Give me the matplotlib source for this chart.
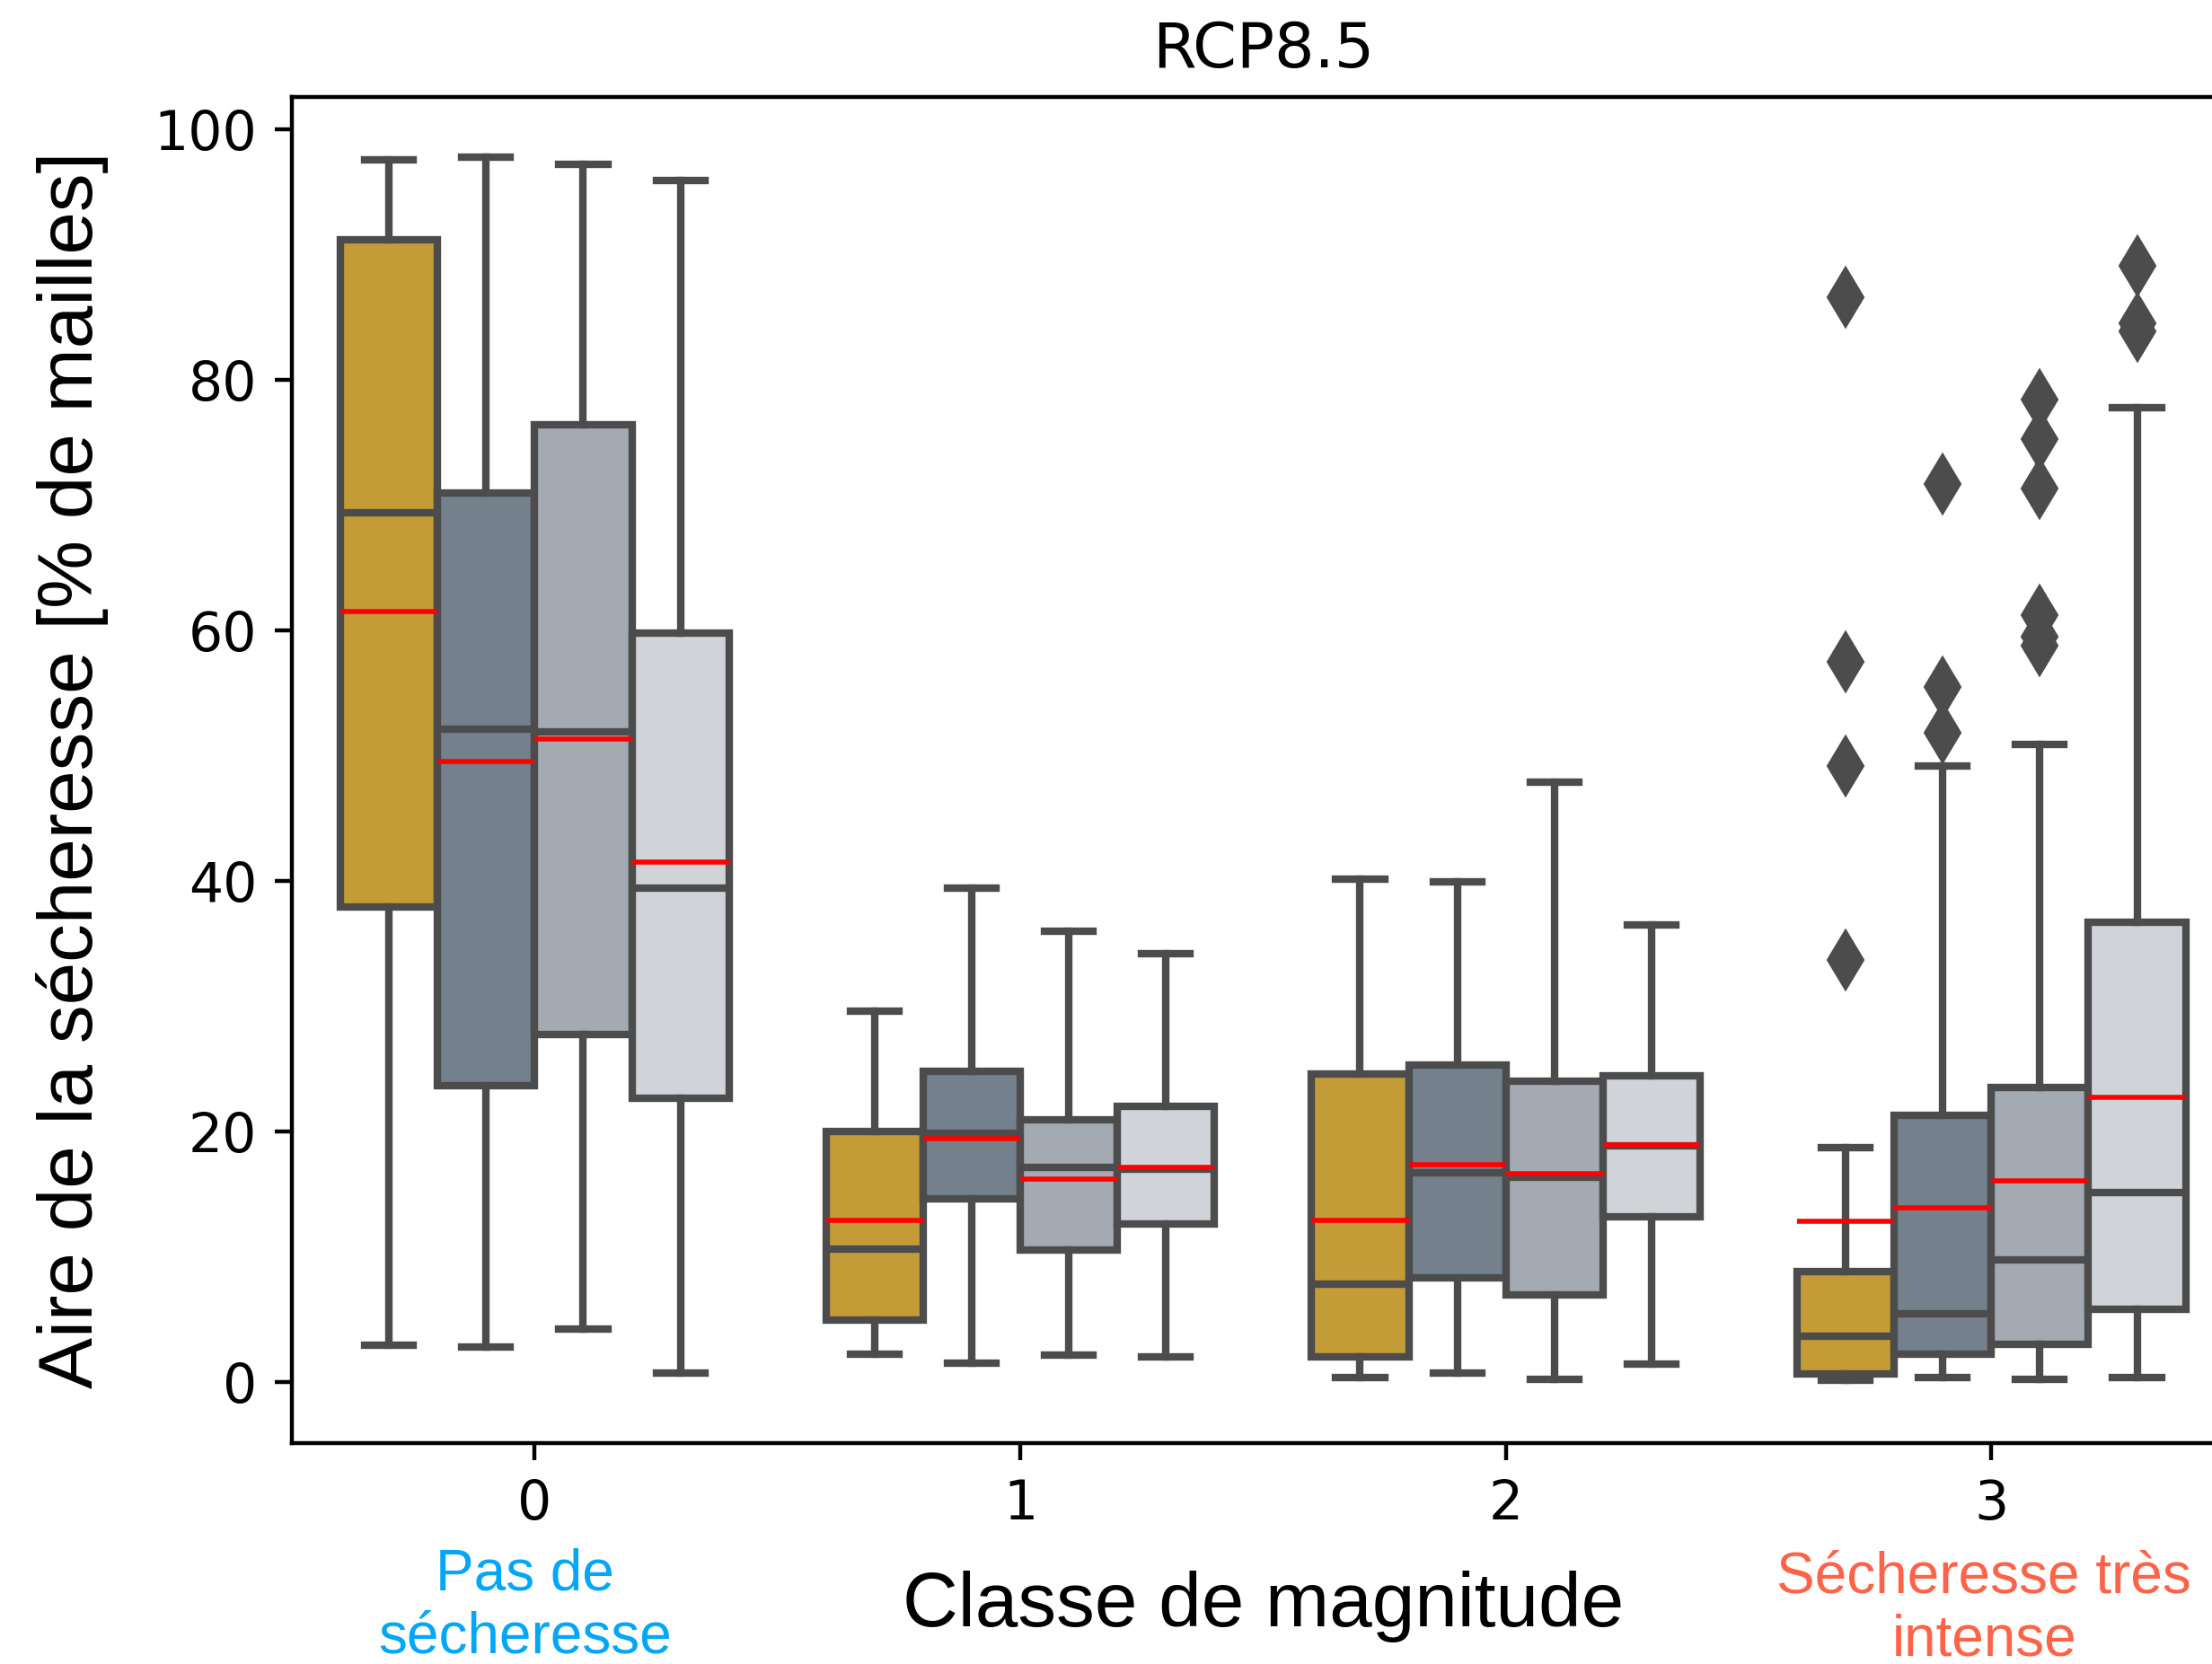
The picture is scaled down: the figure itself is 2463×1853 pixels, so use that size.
import matplotlib
matplotlib.use("Agg")
import matplotlib.pyplot as plt

# Configuration
OUT_FILE = "out.png"
DPI = 400

classes = [0, 1, 2, 3]
hue_colors = ["#C39B37", "#74808C", "#A3AAB2", "#D0D3D8"]
line_gray = "#4C4C4C"

# stats per magnitude class (rows) and per series (columns)
medians = [
    [69.4, 52.1, 51.9, 39.4],
    [10.6, 19.8, 17.1, 17.0],
    [7.8, 16.7, 16.3, 18.8],
    [3.6, 5.4, 9.7, 15.1],
]
means = [
    [61.5, 49.5, 51.3, 41.5],
    [12.9, 19.4, 16.2, 17.1],
    [12.9, 17.3, 16.6, 18.9],
    [12.8, 13.9, 16.0, 22.7],
]
q1 = [
    [37.9, 23.6, 27.7, 22.6],
    [4.9, 14.6, 10.5, 12.6],
    [2.0, 8.3, 6.9, 13.2],
    [0.6, 2.2, 3.0, 5.8],
]
q3 = [
    [91.2, 71.0, 76.4, 59.8],
    [20.0, 24.8, 20.9, 22.0],
    [24.6, 25.3, 24.0, 24.4],
    [8.8, 21.3, 23.5, 36.7],
]
whislo = [
    [2.9, 2.8, 4.2, 0.7],
    [2.2, 1.5, 2.1, 2.0],
    [0.3, 0.7, 0.2, 1.4],
    [0.1, 0.3, 0.2, 0.3],
]
whishi = [
    [97.6, 97.8, 97.2, 95.9],
    [29.6, 39.4, 36.0, 34.2],
    [40.1, 39.9, 47.9, 36.5],
    [18.7, 49.2, 50.9, 77.8],
]
fliers = [
    [[], [], [], []],
    [[], [], [], []],
    [[], [], [], []],
    [[86.6, 57.5, 49.2, 33.7], [71.7, 55.5, 51.8],
     [78.4, 75.3, 71.3, 61.2, 59.5, 58.8], [89.1, 84.5, 83.9]],
]

offsets = [-0.3, -0.1, 0.1, 0.3]

fig = plt.figure(figsize=(2463 / DPI, 1853 / DPI), dpi=DPI)
# axes runs past the right edge, as in the original export
ax = fig.add_axes([0.132, 0.1328, 0.878, 0.809])

for h in range(4):
    stats = []
    for g in range(len(classes)):
        stats.append(dict(med=medians[g][h], q1=q1[g][h], q3=q3[g][h],
                          whislo=whislo[g][h], whishi=whishi[g][h],
                          mean=means[g][h], fliers=fliers[g][h]))
    ax.bxp(stats, positions=[c + offsets[h] for c in classes], widths=0.2,
           patch_artist=True, showmeans=True, meanline=True,
           boxprops=dict(facecolor=hue_colors[h], edgecolor=line_gray, linewidth=1.5),
           whiskerprops=dict(color=line_gray, linewidth=1.5),
           capprops=dict(color=line_gray, linewidth=1.5),
           medianprops=dict(color=line_gray, linewidth=1.5),
           meanprops=dict(color="red", linestyle="-", linewidth=1.0),
           flierprops=dict(marker="d", markerfacecolor=line_gray,
                           markeredgecolor=line_gray, markersize=7.6, linestyle="none"))

ax.set_xlim(-0.5, 3.5)
ax.set_ylim(-4.9, 102.6)
ax.set_xticks(classes)
ax.set_xticklabels([str(c) for c in classes])
ax.set_yticks([0, 20, 40, 60, 80, 100])
ax.tick_params(labelsize=10.8)

ax.set_title("RCP8.5", fontsize=12.6)
ax.set_ylabel("Aire de la sécheresse [% de mailles]", fontsize=15.4,
              family="Liberation Sans", labelpad=9)
ax.set_xlabel("Classe de magnitude", fontsize=15.4, family="Liberation Sans", labelpad=8)

ax.text(-0.02, -0.121, "Pas de\nsécheresse", transform=ax.get_xaxis_transform(),
        ha="center", va="center", fontsize=11.5, family="Liberation Sans",
        color="#04A6F8", linespacing=1.22)
ax.text(2.985, -0.123, "Sécheresse très\nintense", transform=ax.get_xaxis_transform(),
        ha="center", va="center", fontsize=11.5, family="Liberation Sans",
        color="tomato", linespacing=1.22)

fig.savefig(OUT_FILE, dpi=DPI)
